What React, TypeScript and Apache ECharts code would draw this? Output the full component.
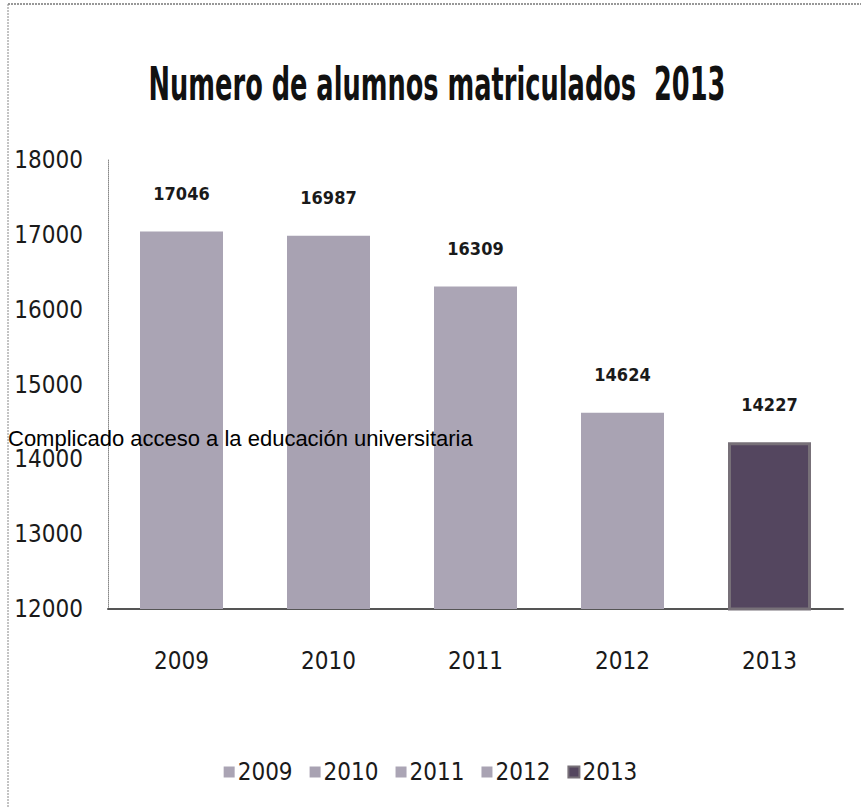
import React, { useEffect, useRef } from "react";
import * as echarts from "echarts";

const categories = ["2009", "2010", "2011", "2012", "2013"];
const values = [17046, 16987, 16309, 14624, 14227];
const seriesNames = ["2009", "2010", "2011", "2012", "2013"];
const barColors = ["#aaa4b4", "#a8a2b2", "#aba5b5", "#a9a3b3", "#54465f"];
const yTicks = { min: 12000, max: 18000, interval: 1000 };
const titleText = "Numero de alumnos matriculados  2013";
const overlayText = "Complicado acceso a la educación universitaria";

const NARROW = "'DejaVu Sans Condensed', 'DejaVu Sans', sans-serif";

export default function App() {
  const ref = useRef<HTMLDivElement>(null);
  useEffect(() => {
    if (!ref.current) return;
    const chart = echarts.init(ref.current, undefined, { renderer: "svg" });
    const series = seriesNames.map((name, i) => ({
      name,
      type: "bar" as const,
      barWidth: 83,
      barGap: "-100%",
      data: categories.map((_, j) => (j === i ? values[j] : null)),
      itemStyle: {
        color: barColors[i],
        borderColor: i === 4 ? "#777078" : undefined,
        borderWidth: i === 4 ? 3 : 0,
      },
      label: {
        show: true,
        position: "top" as const,
        distance: 29,
        fontFamily: NARROW,
        fontWeight: "bold" as const,
        fontSize: 18,
        color: "#1a1a1a",
      },
    }));
    chart.setOption({
      animation: false,
      backgroundColor: "#ffffff",
      legend: {
        bottom: 18,
        left: "center",
        itemWidth: 11,
        itemHeight: 11,
        itemGap: 17,
        icon: "rect",
        textStyle: { fontFamily: NARROW, fontSize: 24, color: "#1a1a1a", padding: [0, 0, 0, -2] },
        data: seriesNames,
      },
      grid: { left: 108, right: 18, top: 160, bottom: 198 },
      xAxis: {
        type: "category",
        data: categories,
        axisLine: { show: true, lineStyle: { color: "#555555", width: 2 } },
        axisTick: { show: false },
        axisLabel: { fontFamily: NARROW, fontSize: 24, color: "#1a1a1a", margin: 40 },
      },
      yAxis: {
        type: "value",
        min: yTicks.min,
        max: yTicks.max,
        interval: yTicks.interval,
        splitLine: { show: false },
        axisLine: { show: true, lineStyle: { color: "#888888", width: 1, type: "dotted" } },
        axisTick: { show: false },
        axisLabel: {
          fontFamily: NARROW,
          fontSize: 24,
          color: "#1a1a1a",
          margin: 25,
          formatter: (v: number) => String(v),
        },
      },
      graphic: [
        {
          type: "line",
          shape: { x1: 8, y1: 4, x2: 861, y2: 4 },
          style: { stroke: "#777777", lineWidth: 1.5, lineDash: [2, 1] },
        },
        {
          type: "line",
          shape: { x1: 8, y1: 4, x2: 8, y2: 807 },
          style: { stroke: "#888888", lineWidth: 1, lineDash: [2, 1] },
        },
        {
          type: "text",
          x: 437,
          y: 84,
          scaleX: 0.62,
          style: {
            text: titleText,
            font: "bold 46px 'DejaVu Sans Condensed', 'DejaVu Sans', sans-serif",
            fill: "#111111",
            align: "center",
            verticalAlign: "middle",
          },
        },
        {
          type: "text",
          x: 8,
          y: 438,
          z: 100,
          style: {
            text: overlayText,
            font: "22px 'Liberation Sans', Arial, sans-serif",
            fill: "#000000",
            verticalAlign: "middle",
            align: "left",
          },
        },
      ],
      series,
    });
    return () => chart.dispose();
  }, []);
  return (
    <div
      ref={ref}
      style={{ position: "absolute", left: 0, top: 0, width: 861, height: 807 }}
    />
  );
}
